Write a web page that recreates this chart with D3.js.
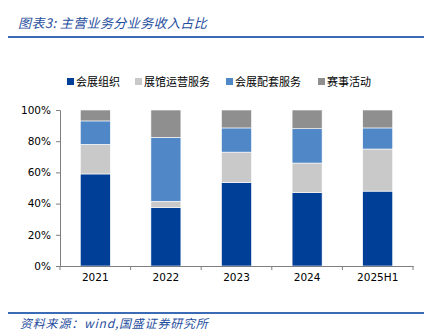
<!DOCTYPE html>
<html><head><meta charset="utf-8">
<script src="https://cdn.jsdelivr.net/npm/d3@7"></script>
<style>body{margin:0;background:#fff}svg{display:block}</style>
</head><body>
<svg id="c" width="433" height="336"></svg>
<script>
const categories = ["2021","2022","2023","2024","2025H1"];
const seriesNames = ["会展组织","展馆运营服务","会展配套服务","赛事活动"];
const s1 = [59, 37.5, 53.5, 47, 48];
const s2 = [19, 4, 19.5, 19, 27];
const s3 = [15, 41, 15.5, 22, 13.5];
const s4 = [7, 17.5, 11.5, 12, 11.5];
const yTicks = [0, 20, 40, 60, 80, 100];
const colors = ["#003F97", "#C9C9C9", "#5087C7", "#8F8F8F"];

const svg = d3.select("#c");
const cjk = "'Noto Sans CJK SC', sans-serif";
const titleBlue = "#1F4E9E";

svg.append("text").attr("x", 18).attr("y", 28).attr("font-family", cjk)
  .attr("font-size", 13).attr("font-style", "italic").attr("fill", titleBlue)
  .attr("letter-spacing", 0.4)
  .text("图表3:  主营业务分业务收入占比");
svg.append("line").attr("x1", 8).attr("x2", 424).attr("y1", 37).attr("y2", 37)
  .attr("stroke", "#3A6BB4").attr("stroke-width", 2);
svg.append("line").attr("x1", 8).attr("x2", 424).attr("y1", 313).attr("y2", 313)
  .attr("stroke", "#3A6BB4").attr("stroke-width", 2);
svg.append("text").attr("x", 20).attr("y", 328).attr("font-family", cjk)
  .attr("font-size", 12).attr("font-style", "italic").attr("fill", titleBlue)
  .attr("letter-spacing", 0.8)
  .text("资料来源：wind,国盛证券研究所");

const x = d3.scaleBand().domain(categories).range([60, 413]).paddingInner(0.575).paddingOuter(0.2875);
const y = d3.scaleLinear().domain([0, 100]).range([266, 110]);

const data = categories.map((c, i) => ({cat: c, a: s1[i], b: s2[i], c2: s3[i], d: s4[i]}));
const keys = ["a", "b", "c2", "d"];
const stack = d3.stack().keys(keys)(data);

const g = svg.append("g");
stack.forEach((layer, li) => {
  g.selectAll(null).data(layer).enter().append("rect")
    .attr("x", d => x(d.data.cat))
    .attr("width", x.bandwidth())
    .attr("y", d => y(Math.min(d[1], 100)))
    .attr("height", d => y(d[0]) - y(Math.min(d[1], 100)))
    .attr("fill", colors[li])
    .attr("stroke", "#fff").attr("stroke-width", 0.6);
});

const axisColor = "#7f7f7f";
const yAxis = svg.append("g").attr("transform", "translate(60,0)")
  .call(d3.axisLeft(y).tickValues(yTicks).tickFormat(d => d + "%").tickSize(4));
yAxis.select(".domain").attr("stroke", axisColor);
yAxis.selectAll(".tick line").attr("stroke", axisColor);
yAxis.selectAll("text").attr("font-family", "'DejaVu Sans', sans-serif").attr("font-size", 10.5).attr("fill", "#000").attr("dx", -2);

const xAxis = svg.append("g").attr("transform", "translate(0,266)")
  .call(d3.axisBottom(x).tickSize(0).tickSizeOuter(0));
xAxis.select(".domain").attr("stroke", axisColor);
xAxis.selectAll("text").attr("font-family", "'DejaVu Sans', sans-serif").attr("font-size", 10.5).attr("fill", "#000").attr("dy", "1.1em");
const bounds = d3.range(categories.length + 1).map(i => 60 + i * (353 / categories.length));
xAxis.selectAll(".btick").data(bounds).enter().append("line")
  .attr("x1", d => d).attr("x2", d => d).attr("y1", 0).attr("y2", 4).attr("stroke", axisColor);

const legX = [67, 135, 226, 318];
const leg = svg.append("g");
seriesNames.forEach((n, i) => {
  leg.append("rect").attr("x", legX[i]).attr("y", 78).attr("width", 7).attr("height", 7).attr("fill", colors[i]);
  leg.append("text").attr("x", legX[i] + 9).attr("y", 85.5).attr("font-family", cjk)
    .attr("font-size", 11).attr("fill", "#000").text(n);
});
</script>
</body></html>
